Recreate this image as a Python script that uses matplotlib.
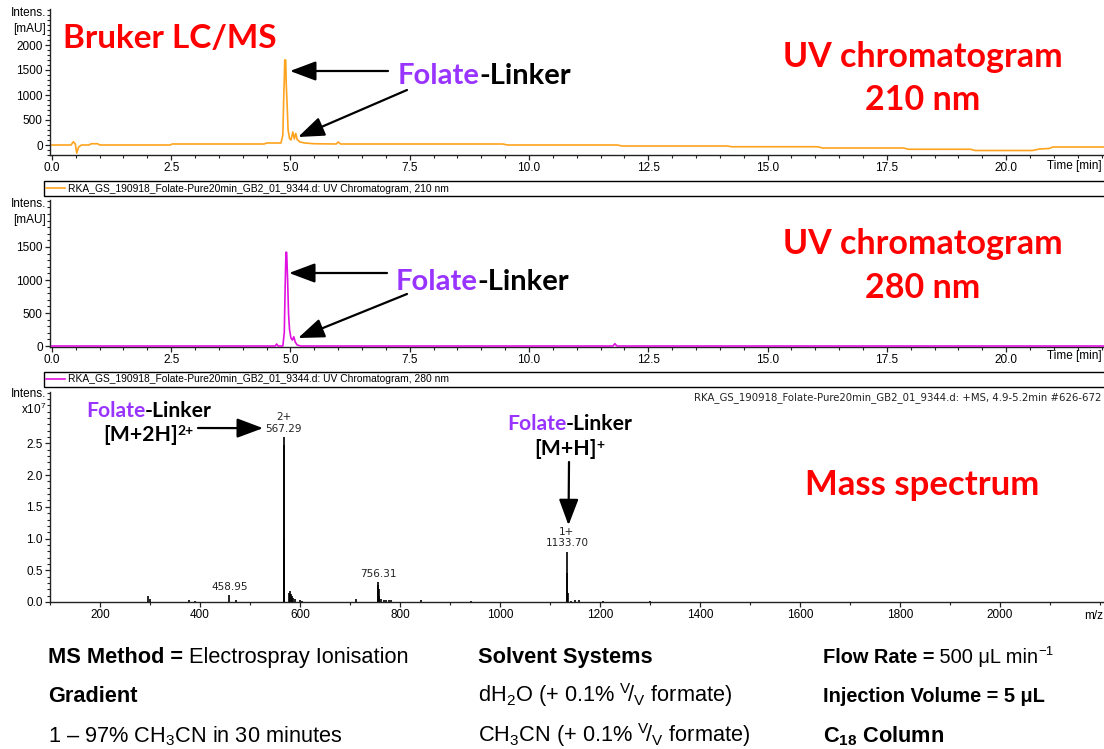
import matplotlib
matplotlib.use("Agg")
import matplotlib.pyplot as plt
from matplotlib.font_manager import FontProperties
from matplotlib.textpath import TextToPath
from matplotlib.ticker import MultipleLocator, FormatStrFormatter

# ---------------- data ----------------
# UV chromatogram at 210 nm (time in min, absorbance in mAU)
t210 = [0.00, 0.40, 0.45, 0.49, 0.52, 0.56, 0.62, 0.78, 0.82, 0.96,
        1.00, 2.48, 2.52, 4.45, 4.50, 4.80, 4.84, 4.86, 4.87, 4.88,
        4.90, 4.91, 4.93, 4.95, 4.98, 5.01, 5.05, 5.08, 5.11, 5.14,
        5.20, 5.30, 5.50, 5.96, 6.00, 6.05, 9.45, 9.55, 11.85, 11.95,
        14.15, 14.25, 16.05, 16.15, 17.85, 17.95, 19.25, 19.35, 20.55, 20.70,
        20.90, 20.98, 22.10]
a210 = [0, 0, 65, 20, -160, -40, 0, 0, 25, 25,
        0, 0, 20, 20, 40, 40, 200, 1000, 1300, 1700,
        1700, 1250, 800, 300, 130, 100, 260, 120, 230, 110,
        60, 40, 25, 20, 60, 20, 20, 0, 0, -20,
        -20, -35, -35, -60, -60, -85, -85, -110, -110, -80,
        -70, -40, -40]

# UV chromatogram at 280 nm
t280 = [0.00, 4.68, 4.71, 4.74, 4.84, 4.87, 4.89, 4.905, 4.92, 4.94,
        4.96, 4.98, 5.01, 5.04, 5.07, 5.10, 5.14, 5.22, 11.76, 11.80,
        11.84, 22.10]
a280 = [0, 0, 30, 0, 0, 200, 950, 1420, 1420, 1000,
        480, 250, 120, 90, 140, 60, 15, 0, 0, 35,
        0, 0]

# Mass spectrum, +MS 4.9-5.2 min (intensity in units of 1e7)
ms_mz = [296, 299, 378, 389, 458.95, 471, 567.29, 567.79, 568.29, 578.8,
         580.3, 581.3, 583, 586, 590, 600, 604, 711, 756.31, 756.8,
         757.3, 758.3, 762, 767, 771, 777, 782, 841, 942, 1133.70,
         1134.70, 1135.70, 1142, 1150, 1158, 1205, 1300]
ms_int = [0.10, 0.05, 0.03, 0.02, 0.11, 0.03, 2.60, 2.47, 1.00, 0.14,
          0.17, 0.12, 0.09, 0.06, 0.04, 0.03, 0.02, 0.04, 0.31, 0.27,
          0.20, 0.09, 0.04, 0.03, 0.03, 0.03, 0.03, 0.03, 0.02, 0.79,
          0.45, 0.14, 0.02, 0.03, 0.03, 0.01, 0.02]

# labelled peaks: (m/z, label)
ms_labels = [(458.95, "458.95"), (567.29, "2+\n567.29"),
             (756.31, "756.31"), (1133.70, "1+\n1133.70")]

file_stem = "RKA_GS_190918_Folate-Pure20min_GB2_01_9344.d"
legend210 = file_stem + ": UV Chromatogram, 210 nm"
legend280 = file_stem + ": UV Chromatogram, 280 nm"
ms_title = file_stem + ": +MS, 4.9-5.2min #626-672"

# ---------------- style ----------------
plt.rcParams["font.family"] = ["Liberation Sans", "DejaVu Sans"]
plt.rcParams["mathtext.fontset"] = "custom"
plt.rcParams["mathtext.rm"] = "Liberation Sans"
plt.rcParams["mathtext.it"] = "Liberation Sans:italic"
plt.rcParams["mathtext.bf"] = "Liberation Sans:bold"

ORANGE = "#FFA31F"
MAGENTA = "#E010E0"
PURPLE = "#9933FF"
RED = "#FF0000"
AXC = "#222222"

W, H = 1104, 749
DPI = 100
fig = plt.figure(figsize=(W / DPI, H / DPI), dpi=DPI)


def rect(x0, y0, x1, y1):
    """Pixel box (top-left origin) -> figure fraction rectangle."""
    return [x0 / W, 1 - y1 / H, (x1 - x0) / W, (y1 - y0) / H]


def style_axes(ax):
    for side in ("top", "right"):
        ax.spines[side].set_visible(False)
    for side in ("left", "bottom"):
        ax.spines[side].set_color(AXC)
        ax.spines[side].set_linewidth(1.0)
    ax.tick_params(which="major", length=3.8, width=0.9, color=AXC,
                   labelsize=8.5, pad=1.5, direction="out")
    ax.tick_params(which="minor", length=2.2, width=0.8, color=AXC,
                   direction="out")
    ax.patch.set_alpha(0)


ax1 = fig.add_axes(rect(50, 9, 1104, 155))
ax2 = fig.add_axes(rect(50, 200, 1104, 347))
ax3 = fig.add_axes(rect(50, 392, 1104, 602))
ov = fig.add_axes([0, 0, 1, 1])
ov.set_xlim(0, W)
ov.set_ylim(H, 0)
ov.axis("off")

# ---- 210 nm chromatogram ----
l210, = ax1.plot(t210, a210, color=ORANGE, lw=1.2)
ax1.set_xlim(-0.04, 22.05)
ax1.set_ylim(-200, 2720)
ax1.xaxis.set_major_locator(MultipleLocator(2.5))
ax1.xaxis.set_minor_locator(MultipleLocator(0.5))
ax1.xaxis.set_major_formatter(FormatStrFormatter("%.1f"))
ax1.yaxis.set_minor_locator(MultipleLocator(100))
ax1.set_yticks([0, 500, 1000, 1500, 2000])
style_axes(ax1)

# ---- 280 nm chromatogram ----
l280, = ax2.plot(t280, a280, color=MAGENTA, lw=1.2, zorder=5, clip_on=False)
ax2.set_xlim(-0.04, 22.05)
ax2.set_ylim(-15, 2212)
ax2.xaxis.set_major_locator(MultipleLocator(2.5))
ax2.xaxis.set_minor_locator(MultipleLocator(0.5))
ax2.xaxis.set_major_formatter(FormatStrFormatter("%.1f"))
ax2.yaxis.set_minor_locator(MultipleLocator(100))
ax2.set_yticks([0, 500, 1000, 1500])
style_axes(ax2)

# ---- mass spectrum ----
ax3.vlines(ms_mz, 0, ms_int, color="black", lw=1.2)
ax3.set_xlim(100, 2208)
ax3.set_ylim(0, 3.31)
ax3.set_xticks(range(200, 2001, 200))
ax3.xaxis.set_minor_locator(MultipleLocator(100))
ax3.set_yticks([0, 0.5, 1.0, 1.5, 2.0, 2.5])
ax3.yaxis.set_major_formatter(FormatStrFormatter("%.1f"))
ax3.yaxis.set_minor_locator(MultipleLocator(0.1))
style_axes(ax3)
peak_height = dict(zip(ms_mz, ms_int))
for mz, lab in ms_labels:
    ax3.annotate(lab, xy=(mz, peak_height[mz]), xytext=(0, 2.5),
                 textcoords="offset points", ha="center", va="bottom",
                 fontsize=7.5, family="DejaVu Sans", color="#222222",
                 linespacing=1.15)

# ---- legend strips under the chromatograms ----
for ax, line, lab, y0, y1 in ((ax1, l210, legend210, 181, 196),
                              (ax2, l280, legend280, 372, 387)):
    leg = ax.legend([line], [lab], loc="center left", mode="expand",
                    bbox_to_anchor=(44 / W, 1 - y1 / H, (1112 - 44) / W, (y1 - y0) / H),
                    bbox_transform=fig.transFigure, borderaxespad=0,
                    borderpad=0.2, handlelength=1.8, handletextpad=0.3,
                    fancybox=False, framealpha=1, edgecolor="black",
                    prop={"family": "Liberation Sans", "size": 7.4})
    leg.get_frame().set_linewidth(1.0)

# ---- axis captions ----
cap = dict(fontsize=8.5, color="black", ha="right", va="center")
ov.text(46, 13, "Intens.", **cap)
ov.text(46, 29, "[mAU]", **cap)
ov.text(46, 204, "Intens.", **cap)
ov.text(46, 220, "[mAU]", **cap)
ov.text(46, 394, "Intens.", **cap)
ov.text(46, 409, r"x10$^7$", **cap)
ov.text(1102, 166, "Time [min]", **cap)
ov.text(1102, 356, "Time [min]", **cap)
ov.text(1103, 616, "m/z", **cap)
ov.text(1101, 398, ms_title, fontsize=7.3, family="DejaVu Sans",
        color="#222222", ha="right", va="center")


def rich(x, y, parts, **common):
    """Draw consecutive text runs on one baseline; a run may be raised
    as a superscript by giving it a 'rise' (fraction of previous box)."""
    prev = None
    for txt, props in parts:
        props = dict(props)
        rise = props.pop("rise", 0.0)
        kw = dict(common)
        kw.update(props)
        if prev is None:
            prev = ov.text(x, y, txt, ha="left", va="baseline", **kw)
        else:
            prev = ov.annotate(txt, xy=(1, rise), xycoords=prev,
                               ha="left", va="bottom", **kw)
    return prev


_ttp = TextToPath()


def folate_linker(x, y, size):
    """'Folate-Linker' with the 'Folate' part in purple; the black tail
    starts at the pen position it would have inside the whole word."""
    prop = FontProperties(family="Lato", weight="bold", size=size)
    w_full = _ttp.get_text_width_height_descent("Folate-Linker", prop, ismath=False)[0]
    w_tail = _ttp.get_text_width_height_descent("-Linker", prop, ismath=False)[0]
    shift = (w_full - w_tail) * DPI / 72.0
    kw = dict(fontproperties=prop, ha="left", va="baseline")
    ov.text(x, y, "Folate", color=PURPLE, **kw)
    ov.text(x + shift, y, "-Linker", color="black", **kw)


# ---- headings ----
head = dict(color=RED, family="Lato", fontweight="bold")
ov.text(63, 48, "Bruker LC/MS", fontsize=24, ha="left", va="baseline", **head)
ov.text(923, 67, "UV chromatogram", fontsize=24.5, ha="center", va="baseline", **head)
ov.text(923, 110, "210 nm", fontsize=24.5, ha="center", va="baseline", **head)
ov.text(923, 254, "UV chromatogram", fontsize=24.5, ha="center", va="baseline", **head)
ov.text(923, 298, "280 nm", fontsize=24.5, ha="center", va="baseline", **head)
ov.text(922, 495, "Mass spectrum", fontsize=25, ha="center", va="baseline", **head)

folate_linker(398, 84, 21)
folate_linker(396, 290, 21)
folate_linker(86, 417, 15.2)
folate_linker(507, 430, 15.2)
lato_b = dict(family="Lato", fontweight="bold")
rich(103, 441, [("[M+2H]", dict(fontsize=15.3)),
                ("2+", dict(fontsize=10, rise=0.42))], color="black", **lato_b)
rich(534, 455, [("[M+H]", dict(fontsize=15.3)),
                ("+", dict(fontsize=10, rise=0.42))], color="black", **lato_b)

# ---- arrows pointing at the Folate-Linker signals ----
arrow = dict(arrowstyle="-|>,head_length=0.8,head_width=0.3", color="black",
             lw=1.6, mutation_scale=20, shrinkA=0, shrinkB=0)
ax1.annotate("", xy=(4.99, 1480), xytext=(388, 71), textcoords=ov.transData,
             arrowprops=arrow)
ax1.annotate("", xy=(5.16, 160), xytext=(407, 90), textcoords=ov.transData,
             arrowprops=arrow)
ax2.annotate("", xy=(4.97, 1106), xytext=(387, 273), textcoords=ov.transData,
             arrowprops=arrow)
ax2.annotate("", xy=(5.16, 121), xytext=(407, 294), textcoords=ov.transData,
             arrowprops=arrow)
ax3.annotate("", xy=(526, 2.74), xytext=(198, 428), textcoords=ov.transData,
             arrowprops=arrow)
ax3.annotate("", xy=(1137, 1.21), xytext=(569, 462), textcoords=ov.transData,
             arrowprops=arrow)

# ---- method details ----
body = dict(fontsize=15.7, color="black")
right_col = dict(fontsize=14.4, color="black")
B = dict(fontweight="bold")
R = dict(fontweight="normal")
rich(48, 663, [("MS Method =", B), (" Electrospray Ionisation", R)], **body)
rich(48, 702, [("Gradient", B)], **body)
ov.text(48, 742, r"1 – 97% CH$_3$CN in 30 minutes", ha="left", va="baseline", **body)
rich(478, 663, [("Solvent Systems", B)], **body)
ov.text(478, 702, r"dH$_2$O (+ 0.1% $^{\mathrm{V}}\!/_{\mathrm{V}}$ formate)",
        ha="left", va="baseline", **body)
ov.text(478, 742, r"CH$_3$CN (+ 0.1% $^{\mathrm{V}}\!/_{\mathrm{V}}$ formate)",
        ha="left", va="baseline", **body)
rich(823, 663, [("Flow Rate =", B), (" 500 μL min", R),
                ("−1", dict(fontweight="normal", fontsize=9.5, rise=0.45))], **right_col)
rich(823, 702, [("Injection Volume = 5 μL", B)], **right_col)
ov.text(823, 742, r"$\mathbf{C_{18}\ Column}$", ha="left", va="baseline", **body)

fig.savefig("out.png", dpi=DPI)
